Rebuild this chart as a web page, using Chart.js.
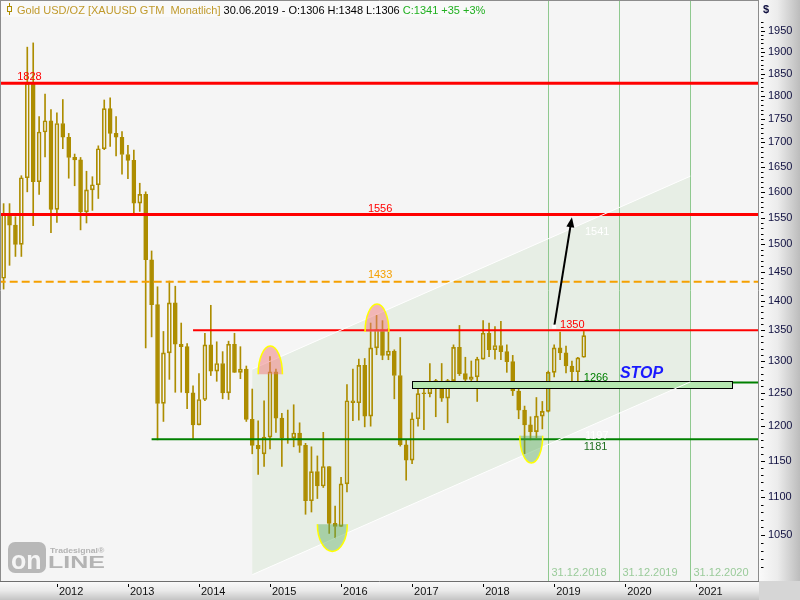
<!DOCTYPE html>
<html>
<head>
<meta charset="utf-8">
<script src="https://cdn.jsdelivr.net/npm/chart.js@4.4.1/dist/chart.umd.min.js"></script>
<style>
  html, body { margin: 0; padding: 0; background: #f5f5f5; }
  canvas { display: block; }
</style>
</head>
<body>
<canvas id="grafik" width="800" height="600"></canvas>
<script>
// Gold USD/OZ, Monatskerzen April 2011 bis Juni 2019
const eroeffnung = [
  1439, 1556, 1536, 1500, 1628, 1828, 1620, 1722, 1746,
  1566, 1740, 1711, 1669, 1664, 1561, 1604, 1614, 1687, 1772, 1719, 1711,
  1675, 1663, 1578, 1595, 1472, 1393, 1234, 1313, 1396, 1327, 1323, 1250,
  1202, 1240, 1326, 1284, 1296, 1250, 1327, 1282, 1287, 1210, 1172, 1160,
  1184, 1283, 1212, 1184, 1183, 1190, 1172, 1095, 1135, 1115, 1142, 1065,
  1061, 1118, 1238, 1235, 1293, 1215, 1321, 1351, 1309, 1316, 1277, 1173,
  1151, 1211, 1250, 1249, 1269, 1268, 1242, 1269, 1322, 1280, 1271, 1275,
  1303, 1345, 1318, 1325, 1315, 1299, 1253, 1224, 1202, 1192, 1215, 1222,
  1282, 1321, 1313, 1292, 1283, 1306
];
const hoch = [
  1577, 1577, 1552, 1632, 1911, 1921, 1755, 1804, 1770,
  1763, 1792, 1719, 1676, 1669, 1641, 1630, 1693, 1791, 1796, 1755, 1723,
  1694, 1684, 1617, 1600, 1488, 1424, 1348, 1434, 1425, 1362, 1328, 1261,
  1280, 1345, 1392, 1331, 1315, 1332, 1345, 1323, 1292, 1256, 1208, 1238,
  1307, 1287, 1219, 1224, 1232, 1205, 1175, 1170, 1157, 1191, 1142, 1088,
  1127, 1263, 1287, 1303, 1304, 1362, 1375, 1366, 1353, 1318, 1338, 1180,
  1220, 1264, 1261, 1296, 1271, 1296, 1271, 1326, 1358, 1306, 1300, 1306,
  1366, 1362, 1356, 1365, 1326, 1309, 1266, 1230, 1214, 1243, 1237, 1284,
  1326, 1347, 1324, 1300, 1306, 1348
];
const tief = [
  1420, 1462, 1478, 1478, 1600, 1535, 1595, 1670, 1522,
  1541, 1687, 1627, 1612, 1527, 1540, 1564, 1587, 1685, 1692, 1672, 1635,
  1626, 1555, 1562, 1321, 1339, 1180, 1207, 1271, 1251, 1251, 1226, 1182,
  1202, 1238, 1277, 1268, 1241, 1240, 1282, 1272, 1207, 1160, 1131, 1142,
  1167, 1191, 1142, 1175, 1170, 1162, 1077, 1080, 1098, 1113, 1052, 1046,
  1062, 1107, 1208, 1209, 1199, 1200, 1310, 1302, 1302, 1241, 1171, 1123,
  1146, 1200, 1195, 1244, 1214, 1237, 1205, 1264, 1277, 1260, 1264, 1237,
  1303, 1307, 1303, 1302, 1282, 1246, 1211, 1160, 1180, 1183, 1196, 1221,
  1275, 1302, 1281, 1266, 1266, 1306
];
const schluss = [
  1556, 1536, 1500, 1628, 1828, 1620, 1722, 1746, 1566,
  1740, 1711, 1669, 1664, 1561, 1604, 1614, 1687, 1772, 1719, 1711, 1675,
  1663, 1578, 1595, 1472, 1393, 1234, 1313, 1396, 1327, 1323, 1250, 1202,
  1240, 1326, 1284, 1296, 1250, 1327, 1282, 1287, 1210, 1172, 1167, 1184,
  1283, 1212, 1183, 1184, 1190, 1172, 1095, 1135, 1115, 1142, 1065, 1061,
  1118, 1238, 1235, 1293, 1215, 1321, 1351, 1309, 1316, 1277, 1173, 1151,
  1211, 1249, 1249, 1268, 1268, 1242, 1269, 1322, 1280, 1271, 1275, 1303,
  1345, 1318, 1325, 1315, 1299, 1253, 1224, 1202, 1192, 1215, 1222, 1282,
  1321, 1313, 1292, 1283, 1305, 1341
];

// Achsen (Monatsindex, 0 = April 2011)
const jahrPositionen = [9, 21, 33, 45, 57, 69, 81, 93, 105, 117];
const jahrNamen = ["2012", "2013", "2014", "2015", "2016", "2017", "2018", "2019", "2020", "2021"];
const preisVon = 1010;
const preisBis = 1970;

const datumPositionen = [92, 104, 116];
const datumNamen = ["31.12.2018", "31.12.2019", "31.12.2020"];

// Horizontale Marken: Wert und Startmonat
const niveauWerte = [1828, 1556, 1433, 1350, 1266, 1181];
const niveauStart = [-1, -1, -1, 32, 69, 25];

// Trendkanal
const kanalX = [42, 116];
const kanalOben = [1287, 1631];
const kanalUnten = [1000, 1267];
const kanalNamen = ["1541", "1197"];

// Stop-Zone
const stopX = [69, 123];
const stopY = [1257, 1269];

// Pfeil
const pfeilX = [93, 96];
const pfeilY = [1356, 1551];

// Halbkreise: von, bis, Basis, Scheitel
const kuppeln = [[43.0, 47.1, 1279, 1324], [61.05, 65.1, 1347, 1394]];
const schalen = [[53.0, 58.06, 1064, 1029], [87.2, 91.07, 1186, 1147]];

const GOLD = "#ad8d00";
const SCHRIFT = "Liberation Sans, Arial, sans-serif";

const steigend = schluss.map((c, i) => c >= eroeffnung[i]);
const dochtOben = hoch.map((h, i) => ({ x: i, y: [Math.max(eroeffnung[i], schluss[i]), h] }));
const dochtUnten = tief.map((l, i) => ({ x: i, y: [l, Math.min(eroeffnung[i], schluss[i])] }));
const koerper = eroeffnung.map((o, i) => ({ x: i, y: [o, schluss[i]] }));

function linie(ctx, x1, y1, x2, y2) {
  ctx.beginPath();
  ctx.moveTo(x1, y1);
  ctx.lineTo(x2, y2);
  ctx.stroke();
}

function text(ctx, t, x, y, farbe, font, align) {
  ctx.fillStyle = farbe;
  ctx.font = font || ("11px " + SCHRIFT);
  ctx.textAlign = align || "left";
  ctx.textBaseline = "alphabetic";
  ctx.fillText(t, x, y);
}

function halbEllipse(ctx, xs, ys, teil, fuellung) {
  const px1 = xs.getPixelForValue(teil[0]);
  const px2 = xs.getPixelForValue(teil[1]);
  const pb = ys.getPixelForValue(teil[2]);
  const ps = ys.getPixelForValue(teil[3]);
  const cx = (px1 + px2) / 2;
  const rx = (px2 - px1) / 2;
  const ry = Math.abs(ps - pb);
  const oben = ps < pb;
  const a0 = oben ? Math.PI : 0;
  const a1 = oben ? 2 * Math.PI : Math.PI;

  ctx.beginPath();
  ctx.ellipse(cx, pb, rx, ry, 0, a0, a1);
  ctx.closePath();
  ctx.fillStyle = fuellung;
  ctx.fill();

  ctx.beginPath();
  ctx.ellipse(cx, pb, rx, ry, 0, a0, a1);
  ctx.strokeStyle = "#ffff00";
  ctx.lineWidth = 1.5;
  ctx.stroke();
}

const zeichnung = {
  id: "zeichnung",

  beforeDraw(chart) {
    const ctx = chart.ctx;
    const a = chart.chartArea;
    ctx.save();
    ctx.fillStyle = "#f5f5f5";
    ctx.fillRect(0, 0, 800, 600);

    // rechte Achse
    let g = ctx.createLinearGradient(a.right, 0, 800, 0);
    g.addColorStop(0, "#fafafa");
    g.addColorStop(0.45, "#ececec");
    g.addColorStop(1, "#bcbcbc");
    ctx.fillStyle = g;
    ctx.fillRect(a.right, 0, 800 - a.right, a.bottom);

    // untere Achse
    g = ctx.createLinearGradient(0, a.bottom, 0, 600);
    g.addColorStop(0, "#fbfbfb");
    g.addColorStop(0.5, "#eaeaea");
    g.addColorStop(1, "#c4c4c4");
    ctx.fillStyle = g;
    ctx.fillRect(0, a.bottom, a.right, 600 - a.bottom);

    ctx.fillStyle = "#d6d6d6";
    ctx.fillRect(a.right, a.bottom, 800 - a.right, 600 - a.bottom);
    ctx.restore();
  },

  beforeDatasetsDraw(chart) {
    const ctx = chart.ctx;
    const a = chart.chartArea;
    const xs = chart.scales.x;
    const ys = chart.scales.y;
    ctx.save();
    ctx.beginPath();
    ctx.rect(a.left, a.top, a.right - a.left, a.bottom - a.top);
    ctx.clip();

    // Kanal
    const kx1 = xs.getPixelForValue(kanalX[0]);
    const kx2 = xs.getPixelForValue(kanalX[1]);
    ctx.beginPath();
    ctx.moveTo(kx1, ys.getPixelForValue(kanalUnten[0]));
    ctx.lineTo(kx1, ys.getPixelForValue(kanalOben[0]));
    ctx.lineTo(kx2, ys.getPixelForValue(kanalOben[1]));
    ctx.lineTo(kx2, ys.getPixelForValue(kanalUnten[1]));
    ctx.closePath();
    ctx.fillStyle = "#e7eee5";
    ctx.fill();

    // Datumslinien
    ctx.strokeStyle = "#8fc98f";
    ctx.lineWidth = 1;
    datumPositionen.forEach((m, i) => {
      const x = Math.round(xs.getPixelForValue(m)) + 0.5;
      linie(ctx, x, 0, x, a.bottom);
      text(ctx, datumNamen[i], x + 3, a.bottom - 5, "#9acb9a");
    });

    // Logo
    ctx.fillStyle = "#b8b8b8";
    ctx.beginPath();
    ctx.roundRect(8, 542, 38, 31, 7);
    ctx.fill();
    text(ctx, "on", 11, 569, "#f5f5f5", "bold 25px " + SCHRIFT);
    ctx.save();
    ctx.translate(48, 568);
    ctx.scale(1.47, 1);
    text(ctx, "LINE", 0, 0, "#b4b4b4", "bold 17px " + SCHRIFT);
    ctx.restore();
    ctx.save();
    ctx.translate(50, 552.5);
    ctx.scale(1.15, 1);
    text(ctx, "Tradesignal®", 0, 0, "#b4b4b4", "bold 7.5px " + SCHRIFT);
    ctx.restore();

    ctx.restore();
  },

  afterDatasetsDraw(chart) {
    const ctx = chart.ctx;
    const a = chart.chartArea;
    const xs = chart.scales.x;
    const ys = chart.scales.y;
    ctx.save();
    ctx.beginPath();
    ctx.rect(a.left, a.top, a.right - a.left, a.bottom - a.top);
    ctx.clip();

    const farben = ["#ff0000", "#ff0000", "#f5a000", "#ff0000", "#008000", "#008000"];
    const staerken = [3, 3, 2, 2, 2, 2];
    niveauWerte.forEach((w, i) => {
      const y = ys.getPixelForValue(w);
      ctx.strokeStyle = farben[i];
      ctx.lineWidth = staerken[i];
      ctx.setLineDash(i === 2 ? [8, 4] : []);
      linie(ctx, xs.getPixelForValue(niveauStart[i]), y, a.right, y);
    });
    ctx.setLineDash([]);

    // Stop-Zone
    const sx1 = Math.round(xs.getPixelForValue(stopX[0])) + 0.5;
    const sx2 = Math.round(xs.getPixelForValue(stopX[1])) + 0.5;
    const sy1 = Math.round(ys.getPixelForValue(stopY[1])) + 0.5;
    const sy2 = Math.round(ys.getPixelForValue(stopY[0])) + 0.5;
    ctx.fillStyle = "#b5e6b0";
    ctx.fillRect(sx1, sy1, sx2 - sx1, sy2 - sy1);
    ctx.strokeStyle = "#000000";
    ctx.lineWidth = 1;
    ctx.strokeRect(sx1, sy1, sx2 - sx1, sy2 - sy1);

    // Kanalkanten
    const kx1 = xs.getPixelForValue(kanalX[0]);
    const kx2 = xs.getPixelForValue(kanalX[1]);
    ctx.strokeStyle = "#ffffff";
    ctx.lineWidth = 1;
    linie(ctx, kx1, ys.getPixelForValue(kanalOben[0]), kx2, ys.getPixelForValue(kanalOben[1]));
    linie(ctx, kx1, ys.getPixelForValue(kanalUnten[0]), kx2, ys.getPixelForValue(kanalUnten[1]));

    // Halbkreise
    kuppeln.forEach(k => halbEllipse(ctx, xs, ys, k, "rgba(240,120,120,0.5)"));
    schalen.forEach(s => halbEllipse(ctx, xs, ys, s, "rgba(90,170,90,0.45)"));

    // Pfeil
    const p1x = xs.getPixelForValue(pfeilX[0]);
    const p1y = ys.getPixelForValue(pfeilY[0]);
    const p2x = xs.getPixelForValue(pfeilX[1]);
    const p2y = ys.getPixelForValue(pfeilY[1]);
    const winkel = Math.atan2(p2y - p1y, p2x - p1x);
    ctx.strokeStyle = "#000000";
    ctx.fillStyle = "#000000";
    ctx.lineWidth = 2;
    linie(ctx, p1x, p1y, p2x - 6 * Math.cos(winkel), p2y - 6 * Math.sin(winkel));
    ctx.beginPath();
    ctx.moveTo(p2x, p2y);
    ctx.lineTo(p2x - 10 * Math.cos(winkel) + 4 * Math.sin(winkel), p2y - 10 * Math.sin(winkel) - 4 * Math.cos(winkel));
    ctx.lineTo(p2x - 10 * Math.cos(winkel) - 4 * Math.sin(winkel), p2y - 10 * Math.sin(winkel) + 4 * Math.cos(winkel));
    ctx.closePath();
    ctx.fill();
    ctx.fillStyle = "#ffffff";
    ctx.fillRect(p1x - 2, p1y - 2, 4, 4);

    // Beschriftungen
    const yw = w => ys.getPixelForValue(w);
    const xm = m => xs.getPixelForValue(m);
    text(ctx, "1828", xm(2.3), yw(1828) - 3, "#ff0000");
    text(ctx, "1556", xm(63.6), yw(1556) - 3, "#ff0000", null, "center");
    text(ctx, "1433", xm(63.6), yw(1433) - 4, "#f5a000", null, "center");
    text(ctx, "1350", xm(94.0), yw(1350) - 2, "#ff0000");
    text(ctx, "1266", xm(98.0), yw(1266) - 2, "#008000");
    text(ctx, "1181", xm(98.0), yw(1181) + 11, "#207020");
    text(ctx, kanalNamen[0], xm(98.2), yw(1556) + 20, "#ffffff");
    text(ctx, kanalNamen[1], xm(98.2), yw(1181), "#ffffff");
    text(ctx, "STOP", xm(104.1), yw(1266) - 5, "#1a1aff", "italic bold 16px " + SCHRIFT);

    ctx.restore();
  },

  afterDraw(chart) {
    const ctx = chart.ctx;
    const a = chart.chartArea;
    const xs = chart.scales.x;
    const ys = chart.scales.y;
    ctx.save();

    // Rahmen
    ctx.strokeStyle = "#8c8c8c";
    ctx.lineWidth = 1;
    linie(ctx, 0.5, 0, 0.5, a.bottom);
    linie(ctx, 0, 0.5, a.right, 0.5);
    linie(ctx, a.right - 0.5, 0, a.right - 0.5, a.bottom);
    ctx.strokeStyle = "#6e6e6e";
    linie(ctx, 0, a.bottom + 0.5, a.right, a.bottom + 0.5);

    // Teilstriche rechts
    ctx.strokeStyle = "#000000";
    for (let v = preisVon; v <= preisBis; v += 10) {
      const y = Math.round(ys.getPixelForValue(v)) + 0.5;
      linie(ctx, a.right + 2, y, a.right + (v % 50 === 0 ? 6 : 4.5), y);
    }
    // Teilstriche unten
    jahrPositionen.forEach(m => {
      const x = Math.round(xs.getPixelForValue(m)) + 0.5;
      linie(ctx, x, a.bottom + 3, x, a.bottom + 6);
    });

    text(ctx, "$", a.right + 4, 13, "#101040", "bold 11px " + SCHRIFT);

    // Kopfzeile
    ctx.fillStyle = "#f9f9f9";
    ctx.fillRect(1, 1, 477, 16);
    ctx.strokeStyle = GOLD;
    linie(ctx, 9.5, 3, 9.5, 15);
    ctx.fillStyle = "#f9f9f9";
    ctx.fillRect(7.5, 6.5, 4, 5);
    ctx.strokeRect(7.5, 6.5, 4, 5);

    const f = "11px " + SCHRIFT;
    ctx.font = f;
    let x = 17;
    const teile = [
      ["Gold USD/OZ [XAUUSD GTM  Monatlich]", "#c09a2c"],
      [" 30.06.2019 - O:1306 H:1348 L:1306 ", "#000000"],
      ["C:1341 +35 +3%", "#20b020"]
    ];
    teile.forEach(([t, farbe]) => {
      text(ctx, t, x, 14, farbe, f);
      x += ctx.measureText(t).width;
    });

    ctx.restore();
  }
};

new Chart(document.getElementById("grafik"), {
  type: "bar",
  data: {
    datasets: [
      { data: dochtOben, backgroundColor: GOLD, borderWidth: 0, barThickness: 1, grouped: false },
      { data: dochtUnten, backgroundColor: GOLD, borderWidth: 0, barThickness: 1, grouped: false },
      {
        data: koerper,
        backgroundColor: steigend.map(s => (s ? "rgba(0,0,0,0)" : GOLD)),
        borderColor: GOLD,
        borderWidth: 1,
        borderSkipped: false,
        barThickness: 4,
        grouped: false
      }
    ]
  },
  options: {
    responsive: false,
    animation: false,
    events: [],
    layout: { padding: { left: 1, top: 1, right: 0, bottom: 0 } },
    plugins: { legend: { display: false }, tooltip: { enabled: false } },
    scales: {
      x: {
        type: "linear",
        min: -0.44,
        max: 127.6,
        offset: false,
        grid: { display: false, drawTicks: false },
        border: { display: false },
        afterBuildTicks: s => { s.ticks = jahrPositionen.map(v => ({ value: v })); },
        afterFit: s => {
          s.height = 19;
          s.paddingLeft = 0;
          s.paddingRight = 0;
        },
        ticks: {
          autoSkip: false,
          maxRotation: 0,
          align: "start",
          labelOffset: 2,
          padding: 4,
          color: "#101010",
          font: { family: SCHRIFT, size: 11 },
          callback: v => jahrNamen[jahrPositionen.indexOf(v)] || ""
        }
      },
      y: {
        type: "logarithmic",
        position: "right",
        min: 992.3,
        max: 2022.4,
        grid: { display: false, drawTicks: false },
        border: { display: false },
        afterBuildTicks: s => {
          const t = [];
          for (let v = 1050; v <= 1950; v += 50) t.push({ value: v });
          s.ticks = t;
        },
        afterFit: s => {
          s.width = 41;
          s.paddingTop = 0;
          s.paddingBottom = 0;
        },
        ticks: {
          autoSkip: false,
          padding: 9,
          color: "#101040",
          font: { family: SCHRIFT, size: 11 },
          callback: v => String(v)
        }
      }
    }
  },
  plugins: [zeichnung]
});
</script>
</body>
</html>
